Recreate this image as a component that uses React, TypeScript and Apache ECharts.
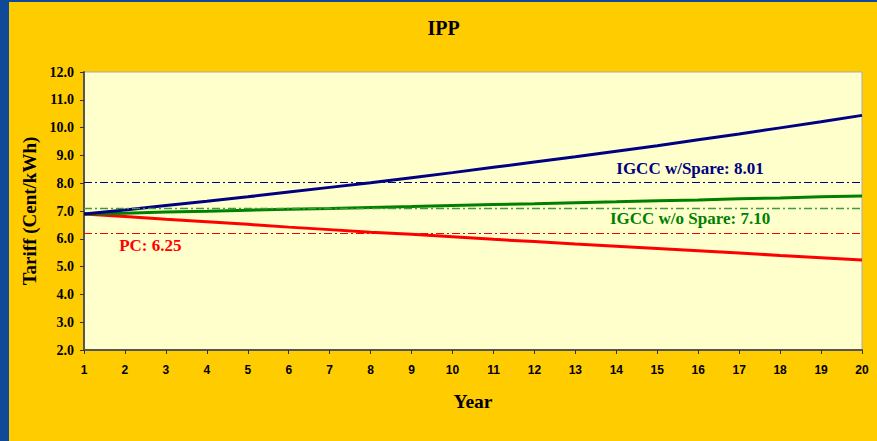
import React, { useEffect, useRef } from "react";
import * as echarts from "echarts";

const years = [1, 2, 3, 4, 5, 6, 7, 8, 9, 10, 11, 12, 13, 14, 15, 16, 17, 18, 19, 20];
const igccSpare = [6.89, 7.04, 7.2, 7.35, 7.51, 7.68, 7.85, 8.02, 8.2, 8.38, 8.57, 8.76, 8.95, 9.15, 9.35, 9.56, 9.77, 9.99, 10.21, 10.44];
const igccNoSpare = [6.89, 6.92, 6.96, 6.99, 7.03, 7.06, 7.09, 7.13, 7.16, 7.2, 7.23, 7.26, 7.3, 7.33, 7.37, 7.4, 7.44, 7.47, 7.51, 7.54];
const pc = [6.89, 6.8, 6.7, 6.61, 6.52, 6.42, 6.33, 6.24, 6.16, 6.07, 5.98, 5.9, 5.81, 5.73, 5.65, 5.57, 5.49, 5.4, 5.32, 5.24];
const refLevels = [8.02, 7.09, 6.21];
const refLabels = ["IGCC w/Spare: 8.01", "IGCC w/o Spare: 7.10", "PC: 6.25"];
const yTicks = [2, 3, 4, 5, 6, 7, 8, 9, 10, 11, 12];

const NAVY = "#000080";
const GREEN = "#008000";
const RED = "#ff0000";
const SERIF = "'Liberation Serif', 'Times New Roman', serif";
const SANS = "'Liberation Sans', Arial, sans-serif";

export default function App() {
  const ref = useRef<HTMLDivElement>(null);
  useEffect(() => {
    if (!ref.current) return;
    const chart = echarts.init(ref.current, undefined, { renderer: "svg" });
    const pairs = (arr: number[]) => years.map((y, i) => [y, arr[i]]);
    const dash = [8, 3, 2, 3];
    const lbl = (text: string, color: string) => ({
      show: true,
      formatter: text,
      color,
      fontFamily: SERIF,
      fontWeight: "bold",
      fontSize: 17,
      position: "inside",
    });
    chart.setOption({
      animation: false,
      backgroundColor: "#ffcc00",
      graphic: [
        { type: "rect", shape: { x: 0, y: 0, width: 9, height: 441 }, style: { fill: "#11499a" } },
        { type: "rect", shape: { x: 0, y: 0, width: 877, height: 2 }, style: { fill: "#11499a" } },
        {
          type: "text",
          x: 443.5,
          y: 28,
          style: { text: "IPP", textAlign: "center", textVerticalAlign: "middle", font: `bold 20px ${SERIF}`, fill: "#000" },
        },
      ],
      grid: {
        left: 84,
        right: 15,
        top: 72,
        bottom: 91,
        show: true,
        backgroundColor: "#ffffcc",
        borderColor: "#aaaaaa",
        borderWidth: 1,
      },
      xAxis: {
        type: "value",
        min: 1,
        max: 20,
        interval: 1,
        name: "Year",
        nameLocation: "middle",
        nameGap: 41,
        nameTextStyle: { fontFamily: SERIF, fontWeight: "bold", fontSize: 19.5, color: "#000" },
        axisLine: { show: true, lineStyle: { color: "#555", width: 2 } },
        axisTick: { show: true, length: 4, lineStyle: { color: "#333" } },
        axisLabel: { fontFamily: SANS, fontWeight: "bold", fontSize: 12, color: "#000", margin: 14 },
        splitLine: { show: false },
      },
      yAxis: {
        type: "value",
        min: yTicks[0],
        max: yTicks[yTicks.length - 1],
        interval: 1,
        name: "Tariff (Cent/kWh)",
        nameLocation: "middle",
        nameGap: 45,
        nameRotate: 90,
        nameTextStyle: { fontFamily: SERIF, fontWeight: "bold", fontSize: 19, color: "#000" },
        axisLine: { show: true, lineStyle: { color: "#555", width: 2 } },
        axisTick: { show: true, length: 4, lineStyle: { color: "#333" } },
        axisLabel: {
          fontFamily: SERIF,
          fontWeight: "bold",
          fontSize: 14,
          color: "#000",
          margin: 10,
          formatter: (v: number) => v.toFixed(1),
        },
        splitLine: { show: false },
      },
      series: [
        {
          type: "line",
          name: "refs",
          data: [],
          markLine: {
            silent: true,
            symbol: "none",
            label: { show: false },
            data: [
              { yAxis: refLevels[0], lineStyle: { color: NAVY, type: dash, width: 1.2 } },
              { yAxis: refLevels[1], lineStyle: { color: "#3f9a3f", type: dash, width: 1.4 } },
              { yAxis: refLevels[2], lineStyle: { color: RED, type: dash, width: 1.2 } },
            ],
          },
          markPoint: {
            symbol: "circle",
            symbolSize: 0,
            data: [
              { coord: [15.8, 8.52], label: lbl(refLabels[0], NAVY) },
              { coord: [15.8, 6.73], label: lbl(refLabels[1], GREEN) },
              { coord: [2.62, 5.75], label: lbl(refLabels[2], RED) },
            ],
          },
        },
        { type: "line", name: "PC", data: pairs(pc), showSymbol: false, symbol: "none", lineStyle: { color: RED, width: 3 } },
        { type: "line", name: "IGCC w/o Spare", data: pairs(igccNoSpare), showSymbol: false, symbol: "none", lineStyle: { color: GREEN, width: 3 } },
        { type: "line", name: "IGCC w/Spare", data: pairs(igccSpare), showSymbol: false, symbol: "none", lineStyle: { color: NAVY, width: 3 } },
      ],
    });
    return () => chart.dispose();
  }, []);
  return (
    <div style={{ position: "absolute", left: 0, top: 0, width: 877, height: 441 }}>
      <div ref={ref} style={{ width: 877, height: 441 }} />
    </div>
  );
}
